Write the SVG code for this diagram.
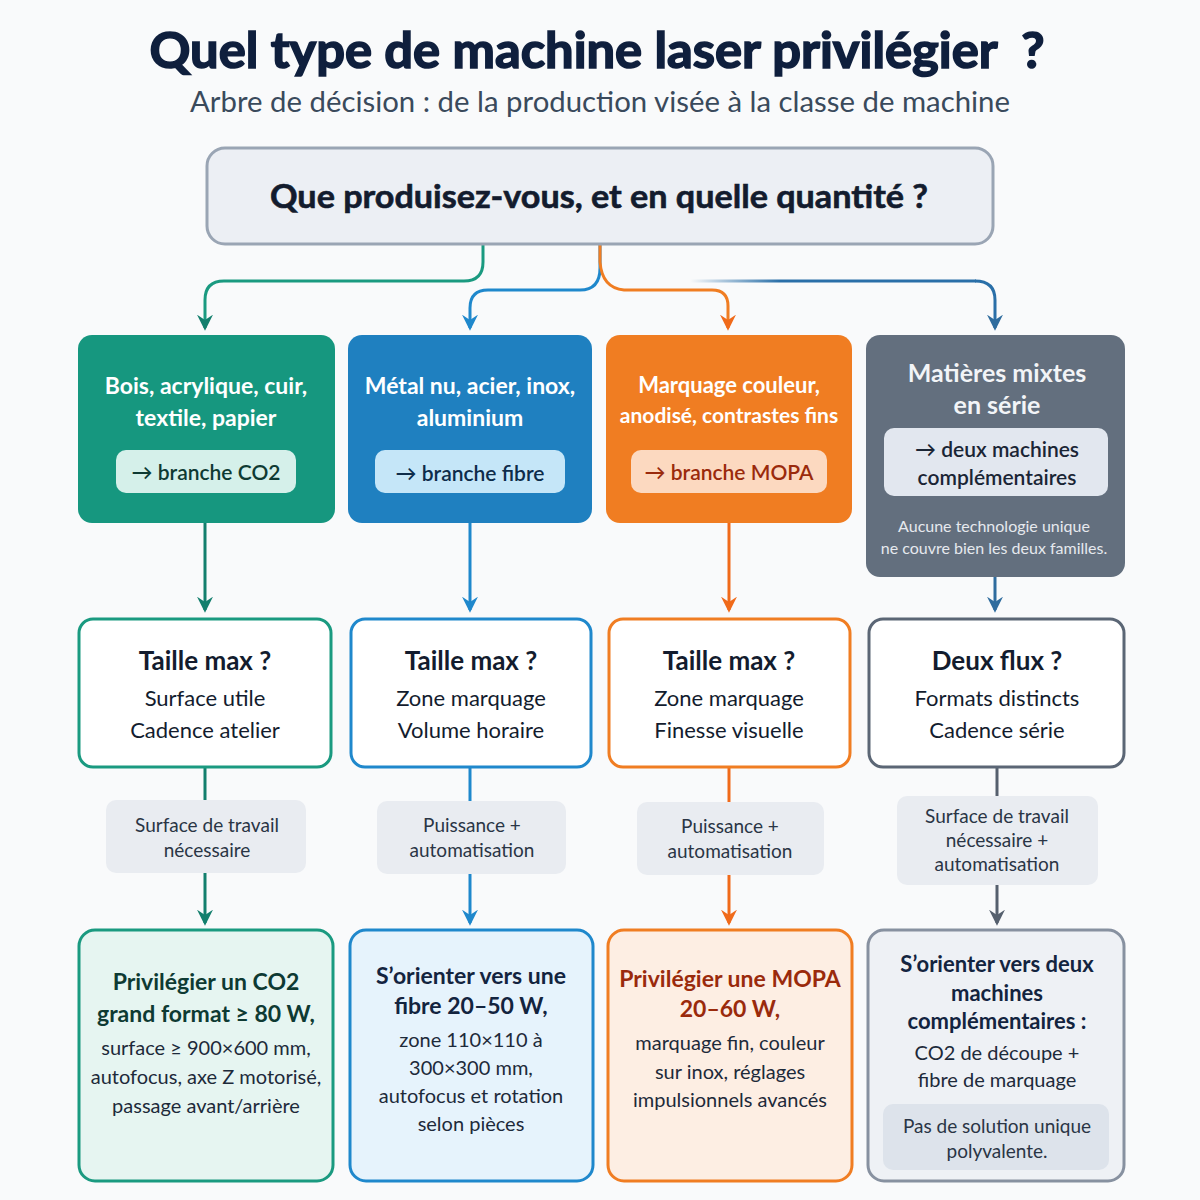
<svg xmlns="http://www.w3.org/2000/svg" width="1200" height="1200" viewBox="0 0 1200 1200">
<defs>
<style>
.t{font-family:Lato,"Noto Sans","DejaVu Sans",sans-serif;text-anchor:middle}
.b{font-weight:700}
.w{fill:#ffffff}
.d{fill:#131c2e}
.c{stroke-width:3;fill:none}
.lbl{fill:#e9ecf1}
</style>
<marker id="mg" viewBox="0 0 12 12" refX="10" refY="6" markerWidth="16" markerHeight="16" markerUnits="userSpaceOnUse" orient="auto"><path d="M0,0 L12,6 L0,12 L4,6 z" fill="#137f6d"/></marker>
<marker id="mb" viewBox="0 0 12 12" refX="10" refY="6" markerWidth="16" markerHeight="16" markerUnits="userSpaceOnUse" orient="auto"><path d="M0,0 L12,6 L0,12 L4,6 z" fill="#1f88cc"/></marker>
<marker id="mo" viewBox="0 0 12 12" refX="10" refY="6" markerWidth="16" markerHeight="16" markerUnits="userSpaceOnUse" orient="auto"><path d="M0,0 L12,6 L0,12 L4,6 z" fill="#f06a1a"/></marker>
<marker id="md" viewBox="0 0 12 12" refX="10" refY="6" markerWidth="16" markerHeight="16" markerUnits="userSpaceOnUse" orient="auto"><path d="M0,0 L12,6 L0,12 L4,6 z" fill="#2f6c9e"/></marker>
<marker id="mgr" viewBox="0 0 12 12" refX="10" refY="6" markerWidth="16" markerHeight="16" markerUnits="userSpaceOnUse" orient="auto"><path d="M0,0 L12,6 L0,12 L4,6 z" fill="#56606e"/></marker>
<linearGradient id="fade" gradientUnits="userSpaceOnUse" x1="690" y1="0" x2="780" y2="0"><stop offset="0" stop-color="#2a6fa8" stop-opacity="0"/><stop offset="1" stop-color="#2a6fa8"/></linearGradient>
</defs>
<rect width="1200" height="1200" fill="#f9fafb"/>

<g id="title">
<text class="t b" x="597" y="68" font-size="50" fill="#0f1f3d" stroke="#0f1f3d" stroke-width="1.6" textLength="895" lengthAdjust="spacingAndGlyphs">Quel type de machine laser privilégier&#160; ?</text>
<text class="t" x="600" y="112" font-size="28" fill="#3a4a5c" textLength="820" lengthAdjust="spacingAndGlyphs">Arbre de décision : de la production visée à la classe de machine</text>
</g>

<g id="connectors">
<path class="c" stroke="#1a9a80" d="M483,245 V262 Q483,281 464,281 H224 Q205,281 205,300 V328" marker-end="url(#mg)"/>
<path class="c" stroke="#1f88cc" d="M600,245 V268 Q600,290 580,290 H488 Q470,290 470,308 V328" marker-end="url(#mb)"/>
<path class="c" stroke="#f07d22" d="M600,245 V262 Q602,288 624,290 H712 Q728,290 728,306 V328" marker-end="url(#mo)"/>
<path class="c" stroke="url(#fade)" d="M690,281 H976"/>
<path class="c" stroke="#2a6fa8" d="M975,281 Q995,281 995,300 V328" marker-end="url(#md)"/>

<path class="c" stroke="#137f6d" d="M205,523 V610" marker-end="url(#mg)"/>
<path class="c" stroke="#1f88cc" d="M470,523 V610" marker-end="url(#mb)"/>
<path class="c" stroke="#f06a1a" d="M729,523 V610" marker-end="url(#mo)"/>
<path class="c" stroke="#2f6c9e" d="M995,577 V610" marker-end="url(#md)"/>

<path class="c" stroke="#137f6d" d="M205,767 V800"/>
<path class="c" stroke="#137f6d" d="M205,873 V923" marker-end="url(#mg)"/>
<path class="c" stroke="#1f88cc" d="M470,767 V801"/>
<path class="c" stroke="#1f88cc" d="M470,874 V923" marker-end="url(#mb)"/>
<path class="c" stroke="#f06a1a" d="M729,767 V802"/>
<path class="c" stroke="#f06a1a" d="M729,875 V923" marker-end="url(#mo)"/>
<path class="c" stroke="#56606e" d="M997,767 V796"/>
<path class="c" stroke="#56606e" d="M997,885 V923" marker-end="url(#mgr)"/>
</g>

<g id="root">
<rect x="207" y="148" width="786" height="96" rx="18" fill="#eceff4" stroke="#9aa5b4" stroke-width="3"/>
<text class="t b d" x="599" y="208" font-size="32" stroke="#131c2e" stroke-width="0.6" textLength="658" lengthAdjust="spacingAndGlyphs">Que produisez-vous, et en quelle quantité ?</text>
</g>

<g id="n-co2">
<rect x="78" y="335" width="257" height="188" rx="14" fill="#16977f"/>
<text class="t b w" x="206" y="394" font-size="23">Bois, acrylique, cuir,</text>
<text class="t b w" x="206" y="426" font-size="23">textile, papier</text>
<rect x="116" y="450" width="180" height="43" rx="10" fill="#d5f0ea"/>
<text class="t" x="206" y="480" font-size="21" font-weight="600" fill="#0e3a33">→ branche CO2</text>
</g>

<g id="n-fibre">
<rect x="348" y="335" width="244" height="188" rx="14" fill="#1f80c0"/>
<text class="t b w" x="470" y="394" font-size="23">Métal nu, acier, inox,</text>
<text class="t b w" x="470" y="426" font-size="23">aluminium</text>
<rect x="375" y="450" width="190" height="43" rx="10" fill="#c5e6f8"/>
<text class="t" x="470" y="481" font-size="21" font-weight="600" fill="#0d2c4a">→ branche fibre</text>
</g>

<g id="n-mopa">
<rect x="606" y="335" width="246" height="188" rx="14" fill="#f07d22"/>
<text class="t b w" x="729" y="393" font-size="22">Marquage couleur,</text>
<text class="t b w" x="729" y="423" font-size="21">anodisé, contrastes fins</text>
<rect x="631" y="450" width="196" height="43" rx="10" fill="#fcd9c0"/>
<text class="t" x="729" y="480" font-size="21" font-weight="600" fill="#9a2a0c">→ branche MOPA</text>
</g>

<g id="n-mixte">
<rect x="866" y="335" width="259" height="242" rx="14" fill="#636f7e"/>
<text class="t b" x="997" y="382" font-size="25" fill="#f2f4f7">Matières mixtes</text>
<text class="t b" x="997" y="414" font-size="25" fill="#f2f4f7">en série</text>
<rect x="884" y="428" width="224" height="68" rx="10" fill="#e2e7ef"/>
<text class="t" x="997" y="457" font-size="21" font-weight="600" fill="#1a2535">→ deux machines</text>
<text class="t" x="997" y="485" font-size="21" font-weight="600" fill="#1a2535">complémentaires</text>
<text class="t" x="994" y="532" font-size="16" fill="#e6e9ee">Aucune technologie unique</text>
<text class="t" x="994" y="554" font-size="16" fill="#e6e9ee">ne couvre bien les deux familles.</text>
</g>

<g id="q-co2">
<rect x="79" y="619" width="252" height="148" rx="14" fill="#ffffff" stroke="#1a9a80" stroke-width="3"/>
<text class="t b d" x="205" y="670" font-size="26">Taille max ?</text>
<text class="t d" x="205" y="706" font-size="22">Surface utile</text>
<text class="t d" x="205" y="738" font-size="22">Cadence atelier</text>
</g>

<g id="q-fibre">
<rect x="351" y="619" width="240" height="148" rx="14" fill="#ffffff" stroke="#1f88cc" stroke-width="3"/>
<text class="t b d" x="471" y="670" font-size="26">Taille max ?</text>
<text class="t d" x="471" y="706" font-size="22">Zone marquage</text>
<text class="t d" x="471" y="738" font-size="22">Volume horaire</text>
</g>

<g id="q-mopa">
<rect x="609" y="619" width="241" height="148" rx="14" fill="#ffffff" stroke="#f07d22" stroke-width="3"/>
<text class="t b d" x="729" y="670" font-size="26">Taille max ?</text>
<text class="t d" x="729" y="706" font-size="22">Zone marquage</text>
<text class="t d" x="729" y="738" font-size="22">Finesse visuelle</text>
</g>

<g id="q-mixte">
<rect x="869" y="619" width="255" height="148" rx="14" fill="#ffffff" stroke="#5b6675" stroke-width="3"/>
<text class="t b d" x="997" y="670" font-size="26">Deux flux ?</text>
<text class="t d" x="997" y="706" font-size="22">Formats distincts</text>
<text class="t d" x="997" y="738" font-size="22">Cadence série</text>
</g>

<g id="l-co2">
<rect class="lbl" x="106" y="800" width="200" height="73" rx="10"/>
<text class="t" x="207" y="832" font-size="19" fill="#2a3545">Surface de travail</text>
<text class="t" x="207" y="857" font-size="19" fill="#2a3545">nécessaire</text>
</g>
<g id="l-fibre">
<rect class="lbl" x="377" y="801" width="189" height="73" rx="10"/>
<text class="t" x="472" y="832" font-size="19" fill="#2a3545">Puissance +</text>
<text class="t" x="472" y="857" font-size="19" fill="#2a3545">automatisation</text>
</g>
<g id="l-mopa">
<rect class="lbl" x="637" y="802" width="187" height="73" rx="10"/>
<text class="t" x="730" y="833" font-size="19" fill="#2a3545">Puissance +</text>
<text class="t" x="730" y="858" font-size="19" fill="#2a3545">automatisation</text>
</g>
<g id="l-mixte">
<rect class="lbl" x="897" y="796" width="201" height="89" rx="10"/>
<text class="t" x="997" y="823" font-size="19" fill="#2a3545">Surface de travail</text>
<text class="t" x="997" y="847" font-size="19" fill="#2a3545">nécessaire +</text>
<text class="t" x="997" y="871" font-size="19" fill="#2a3545">automatisation</text>
</g>

<g id="r-co2">
<rect x="79" y="930" width="254" height="251" rx="16" fill="#e6f5f1" stroke="#1a9a80" stroke-width="3"/>
<text class="t b" x="206" y="990" font-size="23" fill="#0e3a33">Privilégier un CO2</text>
<text class="t b" x="206" y="1022" font-size="23" fill="#0e3a33">grand format ≥ 80 W,</text>
<text class="t" x="206" y="1055" font-size="20" fill="#1d2a3a">surface ≥ 900×600 mm,</text>
<text class="t" x="206" y="1084" font-size="20" fill="#1d2a3a">autofocus, axe Z motorisé,</text>
<text class="t" x="206" y="1113" font-size="20" fill="#1d2a3a">passage avant/arrière</text>
</g>

<g id="r-fibre">
<rect x="350" y="930" width="243" height="251" rx="16" fill="#e6f3fc" stroke="#1f88cc" stroke-width="3"/>
<text class="t b" x="471" y="984" font-size="23" fill="#13243f">S’orienter vers une</text>
<text class="t b" x="471" y="1014" font-size="23" fill="#13243f">fibre 20–50 W,</text>
<text class="t" x="471" y="1047" font-size="20" fill="#1d2a3a">zone 110×110 à</text>
<text class="t" x="471" y="1075" font-size="20" fill="#1d2a3a">300×300 mm,</text>
<text class="t" x="471" y="1103" font-size="20" fill="#1d2a3a">autofocus et rotation</text>
<text class="t" x="471" y="1131" font-size="20" fill="#1d2a3a">selon pièces</text>
</g>

<g id="r-mopa">
<rect x="608" y="930" width="244" height="251" rx="16" fill="#fdeee3" stroke="#f07d22" stroke-width="3"/>
<text class="t b" x="730" y="987" font-size="23" fill="#9a2a0c">Privilégier une MOPA</text>
<text class="t b" x="730" y="1017" font-size="23" fill="#9a2a0c">20–60 W,</text>
<text class="t" x="730" y="1050" font-size="20" fill="#1d2a3a">marquage fin, couleur</text>
<text class="t" x="730" y="1079" font-size="20" fill="#1d2a3a">sur inox, réglages</text>
<text class="t" x="730" y="1107" font-size="20" fill="#1d2a3a">impulsionnels avancés</text>
</g>

<g id="r-mixte">
<rect x="868" y="930" width="256" height="251" rx="16" fill="#eef1f5" stroke="#8791a0" stroke-width="3"/>
<text class="t b" x="997" y="972" font-size="22" fill="#13243f">S’orienter vers deux</text>
<text class="t b" x="997" y="1001" font-size="22" fill="#13243f">machines</text>
<text class="t b" x="997" y="1029" font-size="22" fill="#13243f">complémentaires :</text>
<text class="t" x="997" y="1060" font-size="20" fill="#1d2a3a">CO2 de découpe +</text>
<text class="t" x="997" y="1087" font-size="20" fill="#1d2a3a">fibre de marquage</text>
<rect x="883" y="1104" width="226" height="66" rx="10" fill="#dde3eb"/>
<text class="t" x="997" y="1133" font-size="19" fill="#2a3545">Pas de solution unique</text>
<text class="t" x="997" y="1158" font-size="19" fill="#2a3545">polyvalente.</text>
</g>
</svg>
